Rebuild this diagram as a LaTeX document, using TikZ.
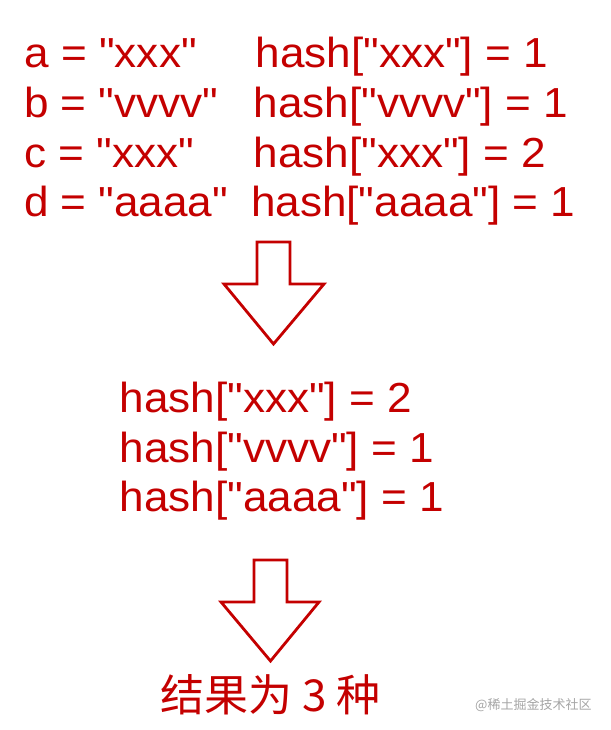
\documentclass[tikz,border=0pt]{standalone}
\usepackage{fontspec}
\newfontfamily\arialfont{Liberation Sans}[FakeStretch=1.05]
\newfontfamily\cjkfont{Noto Sans CJK SC}
\definecolor{dred}{RGB}{196,0,0}
\definecolor{wmgray}{RGB}{165,165,165}
\begin{document}
\begin{tikzpicture}[x=1pt,y=1pt,
  txt/.style={anchor=base west,inner sep=0pt,outer sep=0pt,text=dred,font=\arialfont\fontsize{42}{50}\selectfont},
  cjktxt/.style={anchor=base west,inner sep=0pt,text=dred,font=\cjkfont\fontsize{44}{50}\selectfont},
  wm/.style={anchor=base west,inner sep=0pt,text=wmgray,font=\cjkfont\fontsize{13}{15}\selectfont},
  bigarrow/.style={draw=dred,line width=2.8pt,line join=miter}]
\useasboundingbox (0,0) rectangle (610,-730);
% first block
\node[txt] (a1) at (24.5,-67.3) {a = "xxx"};
\node[txt] (b1) at (24,-117.5) {b = "vvvv"};
\node[txt] (c1) at (24.5,-167.3) {c = "xxx"};
\node[txt] (d1) at (24,-216.8) {d = "aaaa"};
\node[txt] (a2) at (255.5,-67.3) {hash["xxx"] = 1};
\node[txt] (b2) at (253.5,-117.5) {hash["vvvv"] = 1};
\node[txt] (c2) at (253.5,-167.3) {hash["xxx"] = 2};
\node[txt] (d2) at (251,-216.8) {hash["aaaa"] = 1};
% arrow 1
\draw[bigarrow] (257,-242) -- (290,-242) -- (290,-284) -- (324,-284) -- (273.5,-344) -- (224,-284) -- (257,-284) -- cycle;
% second block
\node[txt] (h1) at (119.5,-412.7) {hash["xxx"] = 2};
\node[txt] (h2) at (119.5,-462.2) {hash["vvvv"] = 1};
\node[txt] (h3) at (119.5,-511.7) {hash["aaaa"] = 1};
% arrow 2
\draw[bigarrow] (254,-560) -- (287,-560) -- (287,-602) -- (319,-602) -- (270.5,-661) -- (221,-602) -- (254,-602) -- cycle;
% result
\node[cjktxt] (res) at (160,-711) {结果为 3 种};
\node[wm] (wmk) at (475,-709) {@稀土掘金技术社区};
\end{tikzpicture}
\end{document}
